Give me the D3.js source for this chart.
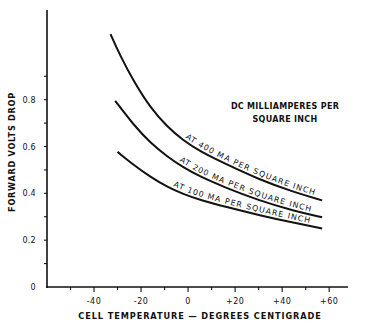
<!DOCTYPE html>
<html><head><meta charset="utf-8">
<script src="https://cdn.jsdelivr.net/npm/d3@7"></script>
<style>
body{margin:0;background:#fff;}
text{font-family:"DejaVu Sans",sans-serif;fill:#111;}
</style></head>
<body><svg id="c" width="369" height="324"></svg>
<script>
// Data
const temps400 = [-33, -29, -23, -16, -9, -2, 5, 15, 30, 45, 57];
const volts400 = [1.08, 0.99, 0.876, 0.765, 0.685, 0.625, 0.58, 0.53, 0.46, 0.405, 0.37];
const temps200 = [-31, -23, -16, -9, -2, 5, 15, 30, 45, 57];
const volts200 = [0.795, 0.69, 0.615, 0.558, 0.51, 0.472, 0.428, 0.37, 0.325, 0.298];
const temps100 = [-30, -23, -16, -9, -2, 5, 17, 31, 45, 57];
const volts100 = [0.577, 0.52, 0.47, 0.428, 0.397, 0.372, 0.34, 0.305, 0.274, 0.25];
const seriesLabels = ["AT 400 MA PER SQUARE INCH", "AT 200 MA PER SQUARE INCH", "AT 100 MA PER SQUARE INCH"];
const labelStartTemp = [-2, -4.5, -7];
const xTickValues = [-40, -20, 0, 20, 40, 60];
const xTickLabels = ["-40", "-20", "0", "+20", "+40", "+60"];
const yTickValues = [0, 0.2, 0.4, 0.6, 0.8];
const yTickLabels = ["0", "0.2", "0.4", "0.6", "0.8"];
const legendLines = ["DC MILLIAMPERES PER", "SQUARE INCH"];
const xTitle = "CELL TEMPERATURE  \u2014  DEGREES CENTIGRADE";
const yTitle = "FORWARD VOLTS DROP";

const svg = d3.select("#c");
const x = d3.scaleLinear().domain([-60, 68]).range([47, 348]);
const y = d3.scaleLinear().domain([0, 1.183]).range([287, 10]);

const g = svg.append("g");
// axes lines
g.append("line").attr("x1", x(-60)).attr("x2", x(-60)).attr("y1", y(1.183)).attr("y2", y(0)+1).attr("stroke", "#111").attr("stroke-width", 1.6);
g.append("line").attr("x1", x(-60)-1).attr("x2", x(68)).attr("y1", y(0)).attr("y2", y(0)).attr("stroke", "#111").attr("stroke-width", 1.6);

// x ticks
const xMinor = d3.range(-50, 61, 10);
g.selectAll(".xt").data(xMinor).join("line")
  .attr("x1", d => x(d)).attr("x2", d => x(d))
  .attr("y1", y(0)).attr("y2", d => y(0) + (d % 20 === 0 ? 5 : 3))
  .attr("stroke", "#111").attr("stroke-width", 1.1);
g.selectAll(".xl").data(xTickValues).join("text")
  .attr("x", d => x(d)).attr("y", 304)
  .attr("text-anchor", "middle").attr("font-size", 8).attr("letter-spacing", 0.5)
  .text((d, i) => xTickLabels[i]);

// y ticks
const yMinor = d3.range(1, 10).map(d => d / 10);
g.selectAll(".yt").data(yMinor).join("line")
  .attr("x1", x(-60) - 3).attr("x2", x(-60))
  .attr("y1", d => y(d)).attr("y2", d => y(d))
  .attr("stroke", "#111").attr("stroke-width", 1.1);
g.selectAll(".yl").data(yTickValues).join("text")
  .attr("x", 36).attr("y", d => y(d) + 3)
  .attr("text-anchor", "end").attr("font-size", 8).attr("letter-spacing", 0.3)
  .text((d, i) => yTickLabels[i]);

// titles
g.append("text").attr("x", 200).attr("y", 319).attr("text-anchor", "middle")
  .attr("font-size", 8.2).attr("letter-spacing", 0.9).attr("font-weight", 600).text(xTitle);
g.append("text").attr("transform", "translate(15,152) rotate(-90)").attr("text-anchor", "middle")
  .attr("font-size", 8.2).attr("letter-spacing", 0.7).attr("font-weight", 600).text(yTitle);

// legend text
g.selectAll(".lg").data(legendLines).join("text")
  .attr("x", 285).attr("y", (d, i) => 109 + i * 13).attr("text-anchor", "middle")
  .attr("font-size", 8).attr("letter-spacing", 0.3).attr("font-weight", 600).text(d => d);

// curves
const line = d3.line().x(d => x(d[0])).y(d => y(d[1])).curve(d3.curveBasis);
const series = [
  d3.zip(temps400, volts400),
  d3.zip(temps200, volts200),
  d3.zip(temps100, volts100)
];
series.forEach((s, i) => {
  const p = g.append("path").attr("id", "curve" + i).attr("d", line(s))
    .attr("fill", "none").attr("stroke", "#111").attr("stroke-width", 2);
  const node = p.node();
  const total = node.getTotalLength();
  const target = x(labelStartTemp[i]);
  let lo = 0, hi = total;
  for (let k = 0; k < 40; k++) {
    const mid = (lo + hi) / 2;
    if (node.getPointAtLength(mid).x < target) lo = mid; else hi = mid;
  }
  g.append("text").attr("font-size", 7.8).attr("letter-spacing", 1.1).attr("dy", -3)
    .append("textPath").attr("href", "#curve" + i).attr("startOffset", lo)
    .text(seriesLabels[i]);
});
</script></body></html>
